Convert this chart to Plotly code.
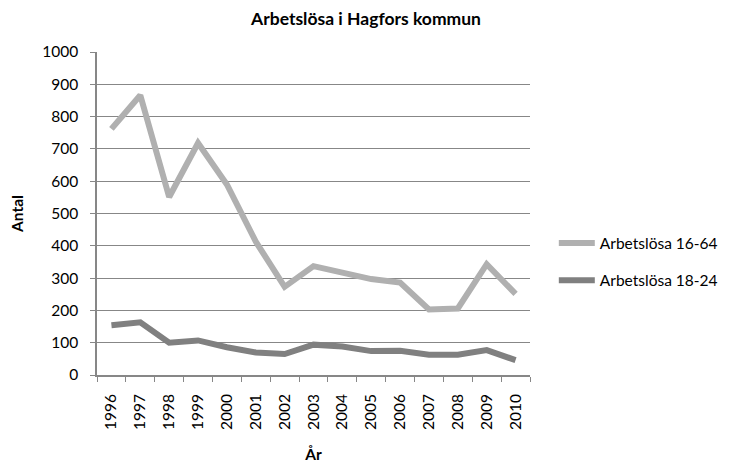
import plotly.graph_objects as go

years = [str(y) for y in range(1996, 2011)]
series_16_64 = [762, 866, 551, 718, 590, 413, 273, 337, 317, 297, 286, 203, 206, 343, 251]
series_18_24 = [154, 163, 100, 107, 86, 70, 65, 94, 88, 74, 75, 63, 63, 77, 46]
y_ticks = list(range(0, 1001, 100))

fig = go.Figure()
fig.add_trace(go.Scatter(x=years, y=series_16_64, mode="lines", name="Arbetslösa 16-64",
                         legendgroup="a", line=dict(color="#b0b0b0", width=6)))
fig.add_trace(go.Scatter(x=years, y=series_18_24, mode="lines", name="Arbetslösa 18-24",
                         legendgroup="b", line=dict(color="#808080", width=6)))

fig.update_layout(
    width=733, height=466,
    margin=dict(l=89, r=211, t=44, b=99, autoexpand=False),
    plot_bgcolor="white", paper_bgcolor="white",
    font=dict(family="Lato", size=15.5, color="black"),
    title=dict(text="<b>Arbetslösa i Hagfors kommun</b>", x=358 / 733, xanchor="center", xref="container",
               y=1 - 11 / 466, yref="container", yanchor="middle", font=dict(size=17.5)),
    showlegend=True,
    legend=dict(x=1.055, y=0.35, xanchor="left", yanchor="middle",
                font=dict(size=15.5), tracegroupgap=14, itemwidth=36),
    xaxis=dict(type="category", range=[-0.5, 14.5], tickangle=-90, showgrid=False, showline=True,
               linecolor="#878787", linewidth=1.5, ticks="outside", tickson="boundaries",
               ticklen=5, tickcolor="#878787", automargin=False, ticklabelstandoff=11,
               title=dict(text="<b>År</b>", font=dict(size=15.5), standoff=20),
               tickfont=dict(size=15.5)),
    yaxis=dict(range=[0, 1000], tickvals=y_ticks, showgrid=True, gridcolor="#878787",
               gridwidth=1, showline=True, linecolor="#878787", linewidth=1.5,
               ticks="outside", ticklen=5, tickcolor="#878787", zeroline=False, automargin=False,
               ticklabelstandoff=9,
               title=dict(text="<b>Antal</b>", font=dict(size=15.5), standoff=21),
               tickfont=dict(size=15.5)),
)
fig.write_html("out.html")
